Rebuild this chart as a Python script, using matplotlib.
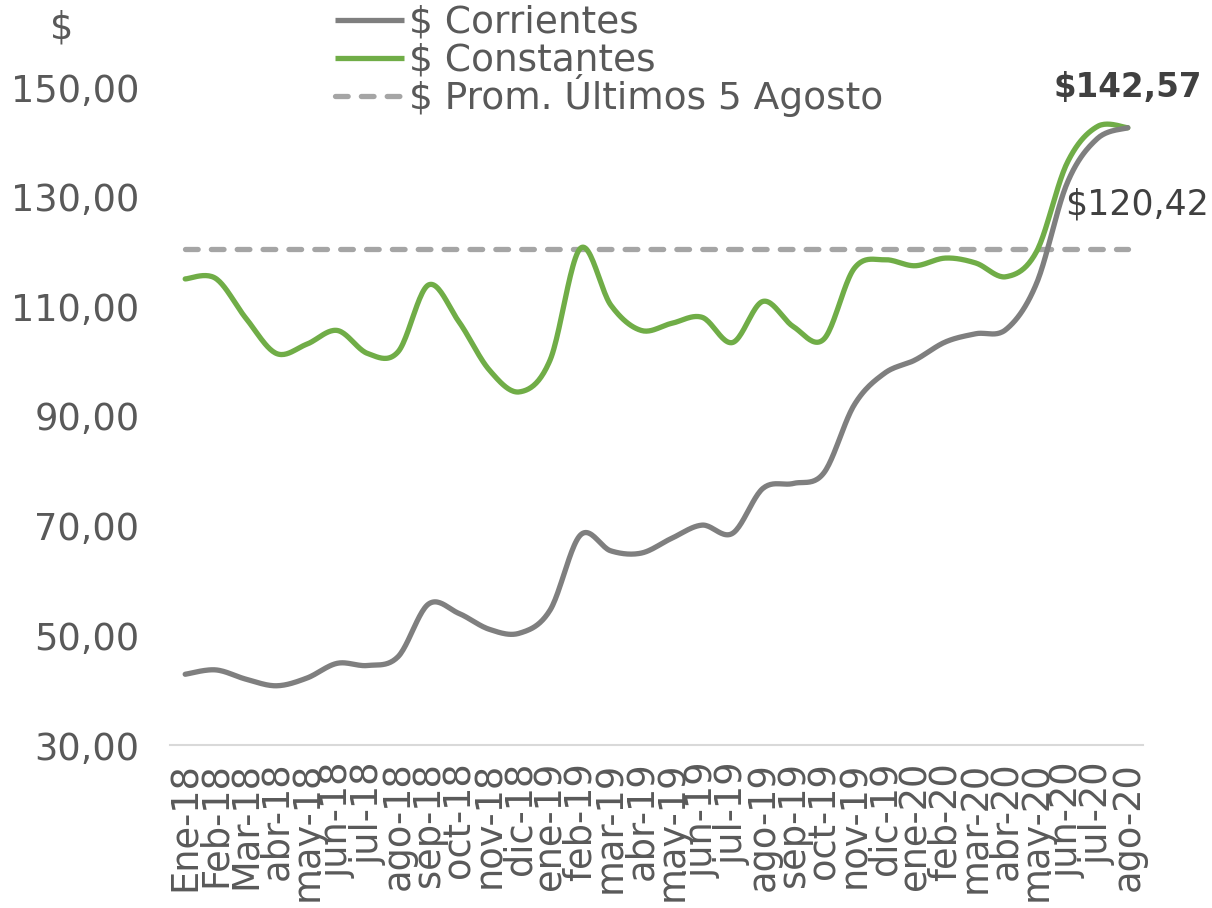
import numpy as np
import matplotlib
matplotlib.use("Agg")
import matplotlib.pyplot as plt
from matplotlib.lines import Line2D

months = ["Ene-18", "Feb-18", "Mar-18", "abr-18", "may-18", "jun-18", "jul-18", "ago-18",
          "sep-18", "oct-18", "nov-18", "dic-18", "ene-19", "feb-19", "mar-19", "abr-19",
          "may-19", "jun-19", "jul-19", "ago-19", "sep-19", "oct-19", "nov-19", "dic-19",
          "ene-20", "feb-20", "mar-20", "abr-20", "may-20", "jun-20", "jul-20", "ago-20"]

corrientes = [42.9, 43.7, 42.0, 40.8, 42.2, 44.9, 44.5, 46.1,
              55.7, 54.0, 51.1, 50.4, 54.6, 68.3, 65.4, 65.0,
              67.7, 70.1, 68.6, 76.8, 77.7, 79.6, 92.0, 97.8,
              100.2, 103.5, 105.0, 105.8, 114.2, 132.4, 140.6, 142.57]

constantes = [115.0, 115.1, 107.8, 101.4, 103.1, 105.6, 101.4, 101.7,
              113.9, 107.2, 98.4, 94.4, 100.2, 120.6, 110.2, 105.6,
              106.9, 108.0, 103.4, 110.9, 106.3, 104.0, 116.9, 118.5,
              117.4, 118.8, 117.9, 115.4, 120.0, 136.1, 142.8, 142.57]

promedio = 120.42
yticks = [30, 50, 70, 90, 110, 130, 150]

labels = ["$ Corrientes", "$ Constantes", "$ Prom. Últimos 5 Agosto"]
label_last = "$142,57"
label_prom = "$120,42"

FONT = "DejaVu Sans"
TXT = "#595959"
plt.rcParams["font.family"] = [FONT]

C_CORR = "#7f7f7f"
C_CONS = "#70ad47"
C_PROM = "#a5a5a5"
LW = 3.8
DASH = (2.4, 2.5)
FS = 26.5


def smooth(y, n=24):
    """Catmull-Rom style smoothing (like spreadsheet smoothed lines)."""
    y = np.asarray(y, float)
    x = np.arange(len(y), dtype=float)
    px = np.concatenate([[x[0]], x, [x[-1]]])
    py = np.concatenate([[y[0]], y, [y[-1]]])
    xs, ys = [], []
    t = np.linspace(0, 1, n, endpoint=False)
    for i in range(1, len(px) - 2):
        p0 = np.array([px[i - 1], py[i - 1]])
        p1 = np.array([px[i], py[i]])
        p2 = np.array([px[i + 1], py[i + 1]])
        p3 = np.array([px[i + 2], py[i + 2]])
        c1 = p1 + (p2 - p0) / 6.0
        c2 = p2 - (p3 - p1) / 6.0
        b = ((1 - t) ** 3)[:, None] * p1 + (3 * (1 - t) ** 2 * t)[:, None] * c1 \
            + (3 * (1 - t) * t ** 2)[:, None] * c2 + (t ** 3)[:, None] * p2
        xs.append(b[:, 0]); ys.append(b[:, 1])
    xs.append([x[-1]]); ys.append([y[-1]])
    return np.concatenate(xs), np.concatenate(ys)


W, H = 1212, 908
fig = plt.figure(figsize=(W / 100, H / 100), dpi=100)
ax = fig.add_axes([170 / W, 1 - 745 / H, 973 / W, (745 - 87) / H])

x = np.arange(len(months))
sx, sy = smooth(corrientes)
ax.plot(sx, sy, color=C_CORR, lw=LW, solid_capstyle="round", zorder=3)
sx, sy = smooth(constantes)
ax.plot(sx, sy, color=C_CONS, lw=LW, solid_capstyle="round", zorder=2)
ax.plot(x, [promedio] * len(x), color=C_PROM, lw=LW, dashes=DASH,
        dash_capstyle="round", zorder=1)

ax.set_xlim(-0.5, len(months) - 0.5)
ax.set_ylim(30, 150)
ax.set_yticks(yticks)
ax.set_yticklabels([f"{v:.2f}".replace(".", ",") for v in yticks])
ax.set_xticks(x)
ax.set_xticklabels(months, rotation=90)

for s in ["top", "right", "left"]:
    ax.spines[s].set_visible(False)
ax.spines["bottom"].set_color("#d9d9d9")
ax.spines["bottom"].set_linewidth(1.5)
ax.tick_params(axis="both", length=0, colors=TXT, labelsize=FS)
ax.tick_params(axis="y", pad=22)
ax.tick_params(axis="x", pad=12)

fig.text(62 / W, 1 - 28 / H, "$", fontsize=FS, color=TXT, ha="center", va="center")

ax.annotate(label_last, xy=(1128 / W, 1 - 88 / H), xycoords="figure fraction",
            ha="center", va="center", fontsize=23.5, fontweight="bold", color="#404040")
ax.annotate(label_prom, xy=(1137 / W, 1 - 205 / H), xycoords="figure fraction",
            ha="center", va="center", fontsize=25, color="#404040")

# legend (drawn manually for even row spacing)
leg_colors = [C_CORR, C_CONS, C_PROM]
leg_rows = [20, 58, 96]
for i, (lab, col, yr) in enumerate(zip(labels, leg_colors, leg_rows)):
    yf = 1 - yr / H
    kw = dict(dashes=DASH, dash_capstyle="round") if i == 2 else dict(solid_capstyle="butt")
    fig.add_artist(Line2D([335 / W, 404 / W], [yf, yf], transform=fig.transFigure,
                          color=col, lw=LW, **kw))
    fig.text(409 / W, 1 - (yr + 13) / H, lab, fontsize=27, color=TXT,
             ha="left", va="baseline")

fig.savefig("out.png", dpi=100)
